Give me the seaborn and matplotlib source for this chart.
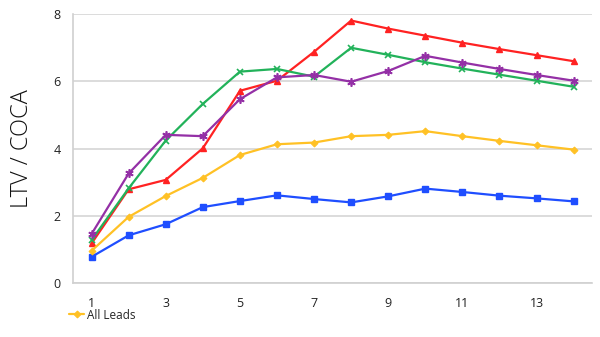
import matplotlib
matplotlib.use("Agg")
import matplotlib.pyplot as plt
import seaborn as sns
import pandas as pd
from matplotlib.ticker import FixedLocator

months = list(range(1, 15))
all_leads = [0.96, 1.97, 2.59, 3.13, 3.81, 4.13, 4.18, 4.37, 4.41, 4.52, 4.37, 4.23, 4.10, 3.97]
blue_series = [0.78, 1.42, 1.75, 2.26, 2.44, 2.61, 2.50, 2.40, 2.58, 2.81, 2.71, 2.60, 2.52, 2.43]
red_series = [1.18, 2.79, 3.07, 4.01, 5.72, 6.02, 6.88, 7.81, 7.57, 7.36, 7.15, 6.96, 6.78, 6.60]
green_series = [1.28, 2.82, 4.24, 5.33, 6.29, 6.37, 6.14, 7.00, 6.79, 6.57, 6.38, 6.20, 6.02, 5.84]
purple_series = [1.46, 3.26, 4.41, 4.37, 5.47, 6.12, 6.19, 5.99, 6.31, 6.76, 6.56, 6.37, 6.19, 6.02]

x_tick_labels = ["1", "3", "5", "7", "9", "11", "13"]
y_ticks = [0, 2, 4, 6, 8]

sns.set_style("white")
plt.rcParams["font.family"] = ["Open Sans", "DejaVu Sans"]

fig = plt.figure(figsize=(6.0, 3.37), dpi=100)
ax = fig.add_axes([0.1217, 0.160, 0.987 - 0.1217, 0.958 - 0.160])

series = [
    ("Series A", blue_series, "#1F4EFF", "s", 5, 1.0),
    ("Series B", red_series, "#FF2222", "^", 5, 1.0),
    ("Series C", green_series, "#22B25A", "x", 5, 1.2),
    ("Series D", purple_series, "#9430A6", (6, 2, 0), 6, 1.2),
]
for name, vals, col, mk, ms, mew in series:
    df = pd.DataFrame({"month": months, "value": vals})
    sns.lineplot(data=df, x="month", y="value", ax=ax, color=col, marker=mk,
                 markersize=ms, markeredgewidth=mew, markeredgecolor=col,
                 linewidth=1.6, label=name, legend=False)

df_y = pd.DataFrame({"month": months, "value": all_leads})
sns.lineplot(data=df_y, x="month", y="value", ax=ax, color="#FFC125", marker="D",
             markersize=3.5, markeredgecolor="#FFC125", linewidth=1.6,
             label="All Leads", legend=False)

ax.set_xlim(0.5, 14.5)
ax.set_ylim(0, 8)
ax.set_xticks([int(t) for t in x_tick_labels])
ax.set_xticklabels(x_tick_labels)
ax.xaxis.set_minor_locator(FixedLocator([i + 0.5 for i in range(0, 15)]))
ax.tick_params(axis="x", which="major", length=0, pad=10, labelsize=9, colors="#222222")
ax.tick_params(axis="x", which="minor", length=5, width=1, color="#D0D0D0", direction="out")
ax.set_yticks(y_ticks)
ax.tick_params(axis="y", which="major", length=5, width=1, color="#D0D0D0", direction="out",
               labelsize=9, labelcolor="#222222", pad=4)
ax.yaxis.grid(True, color="#D5D5D5", linewidth=1.2)
ax.xaxis.grid(False)
ax.set_axisbelow(True)
for s in ["top", "right"]:
    ax.spines[s].set_visible(False)
for s in ["left", "bottom"]:
    ax.spines[s].set_color("#D0D0D0")
    ax.spines[s].set_linewidth(1.2)

ax.set_xlabel("")
ax.set_ylabel("LTV / COCA", fontsize=17, color="#111111", labelpad=14,
              fontweight="light")

handles, labels = ax.get_legend_handles_labels()
idx = labels.index("All Leads")
fig.legend([handles[idx]], ["All Leads"], loc="center left",
           bbox_to_anchor=(0.105, 0.065), frameon=False, fontsize=8.5,
           handlelength=1.3, handletextpad=0.2, borderpad=0)

fig.savefig("out.png", dpi=100)
